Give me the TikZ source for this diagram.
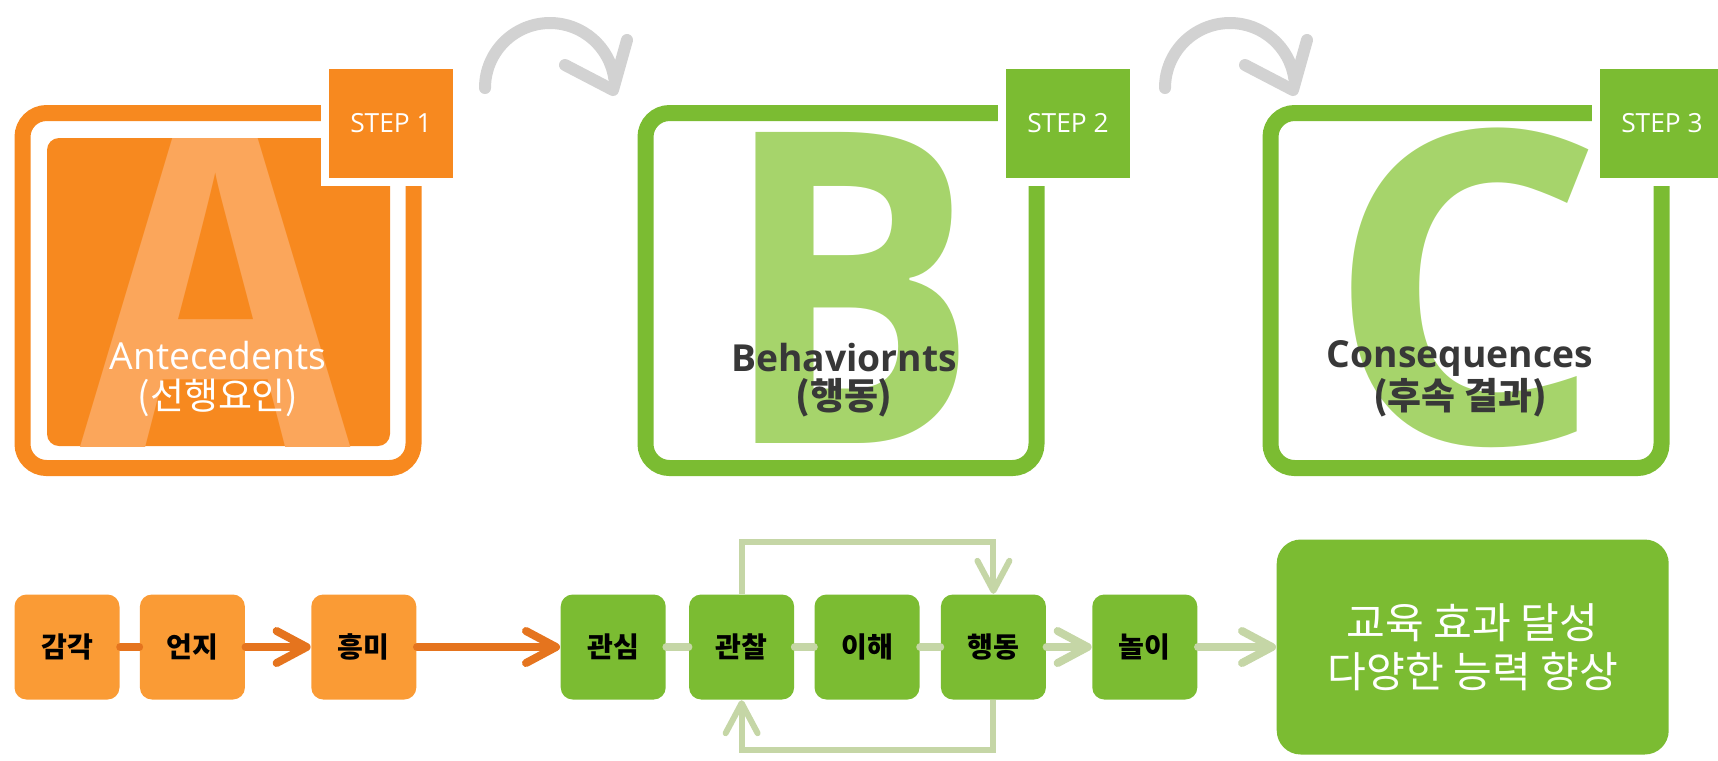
\documentclass[tikz,border=0pt]{standalone}
\usepackage{fontspec}
\setmainfont{Open Sans}
\newfontfamily\kr{Noto Sans CJK KR}
\usepackage{tikz}
\usetikzlibrary{calc,positioning,arrows.meta}
\definecolor{abcorange}{HTML}{F7891F}
\definecolor{abclightorange}{HTML}{FBA65B}
\definecolor{boxorange}{HTML}{FA9B35}
\definecolor{lineorange}{HTML}{E5741E}
\definecolor{abcgreen}{HTML}{7BBC32}
\definecolor{abclightgreen}{HTML}{A6D46B}
\definecolor{linegreen}{HTML}{C5D6A6}
\definecolor{arcgray}{HTML}{D2D2D2}
\definecolor{labelgray}{HTML}{383838}

\begin{document}
\begin{tikzpicture}[x=0.1mm, y=-0.1mm, node distance=2mm and 2mm, >={Straight Barb[length=3mm,width=3.2mm,round]}]

\tikzset{framebox/.style={draw,line width=1.6mm,rounded corners=2.4mm,minimum width=39.1mm,minimum height=35.5mm,inner sep=0pt},
stepbox/.style={draw=white,line width=0.8mm,minimum width=13.2mm,minimum height=11.7mm,inner sep=0pt,text=white,font=\fontsize{7.5}{8}\selectfont},
bigletter/.style={anchor=base,inner sep=0pt,font=\bfseries\fontsize{124}{124}\selectfont},
steplabel/.style={inner sep=0pt,font=\fontsize{10.6}{12}\selectfont},
smallnode/.style={minimum size=10.5mm,rounded corners=1.2mm,inner sep=0pt,font=\kr\bfseries\fontsize{8}{9}\selectfont},
orangenode/.style={smallnode,fill=boxorange},
greennode/.style={smallnode,fill=abcgreen},
orangeline/.style={lineorange,line width=0.8mm,line cap=round},
greenline/.style={linegreen,line width=0.8mm,line cap=round},
loopline/.style={linegreen,line width=0.6mm},
grayarc/.style={arcgray,line width=1.2mm,line cap=round,line join=round}}

\useasboundingbox (0,0) rectangle (1718,760);

% Frames
\foreach \x/\n/\col in {218/A/abcorange, 841/B/abcgreen, 1466/C/abcgreen} \node[framebox,draw=\col] (frame\n) at (\x,290.5) {};
\node[fill=abcorange,rounded corners=1.2mm,minimum width=34.3mm,minimum height=30.8mm,inner sep=0pt] (fillA) at (218.5,292) {};

% Letters
\begin{scope}
\clip[rounded corners=1.2mm] (fillA.north west) rectangle (fillA.south east);
\node[bigletter,text=abclightorange,font=\bfseries\fontsize{135}{135}\selectfont] (letterA) at (216,460) {\scalebox{0.85}[1]{A}};
\end{scope}
\node[bigletter,text=abclightgreen] (letterB) at (850,443) {\scalebox{0.88}[1]{B}};
\node[bigletter,text=abclightgreen] (letterC) at (1465,443) {C};

% Labels
\node[steplabel,text=white] (nameA) at (218,356) {Antecedents};
\node[steplabel,text=white,font=\kr\fontsize{10.5}{12}\selectfont] (korA) at (218,398) {(선행요인)};
\node[steplabel,text=labelgray,font=\bfseries\fontsize{10.6}{12}\selectfont] (nameB) at (844,358) {Behaviornts};
\node[steplabel,text=labelgray,font=\kr\bfseries\fontsize{10.5}{12}\selectfont] (korB) at (844,398) {(행동)};
\node[steplabel,text=labelgray,font=\bfseries\fontsize{10.6}{12}\selectfont] (nameC) at (1460,358) {Consequences};
\node[steplabel,text=labelgray,font=\kr\bfseries\fontsize{10.5}{12}\selectfont] (korC) at (1460,398) {(후속 결과)};

% Steps
\foreach \x/\n/\col in {391/1/abcorange, 1068/2/abcgreen, 1662/3/abcgreen} \node[stepbox,fill=\col] (step\n) at (\x,123.5) {STEP \n};

% Arcs between steps
\foreach \dx in {0, 680} {
  \draw[grayarc] (485+\dx,88) arc[start angle=180, end angle=352, radius=65];
  \draw[grayarc] (565+\dx,65) -- (613+\dx,90) -- (627+\dx,40);
}

% Bottom row
\node[orangenode] (sense) at (67,647) {감각};
\node[orangenode,right=1.9mm of sense] (recognize) {언지};
\node[orangenode,right=6.5mm of recognize] (interest) {흥미};
\node[greennode,right=14.3mm of interest] (concern) {관심};
\node[greennode,right=2.2mm of concern] (observe) {관찰};
\node[greennode,right=1.9mm of observe] (understand) {이해};
\node[greennode,right=2mm of understand] (act) {행동};
\node[greennode,right=4.5mm of act] (play) {놀이};
\node[greennode,right=7.8mm of play,minimum width=39.2mm,minimum height=21.5mm,rounded corners=2.4mm,text=white,align=center,font=\kr\fontsize{12}{14}\selectfont] (result) {교육 효과 달성\\다양한 능력 향상};

% Connectors
\draw[orangeline] (sense) -- (recognize);
\draw[orangeline,->] (recognize) -- (interest);
\draw[orangeline,->] (interest) -- (concern);
\draw[greenline] (concern) -- (observe);
\draw[greenline] (observe) -- (understand);
\draw[greenline] (understand) -- (act);
\draw[greenline,->] (act) -- (play);
\draw[greenline,->] (play) -- (result);
\draw[loopline,->] (observe.north) -- ++(0,-52) -| (act.north);
\draw[loopline,->] (act.south) -- ++(0,50) -| (observe.south);

\end{tikzpicture}
\end{document}
